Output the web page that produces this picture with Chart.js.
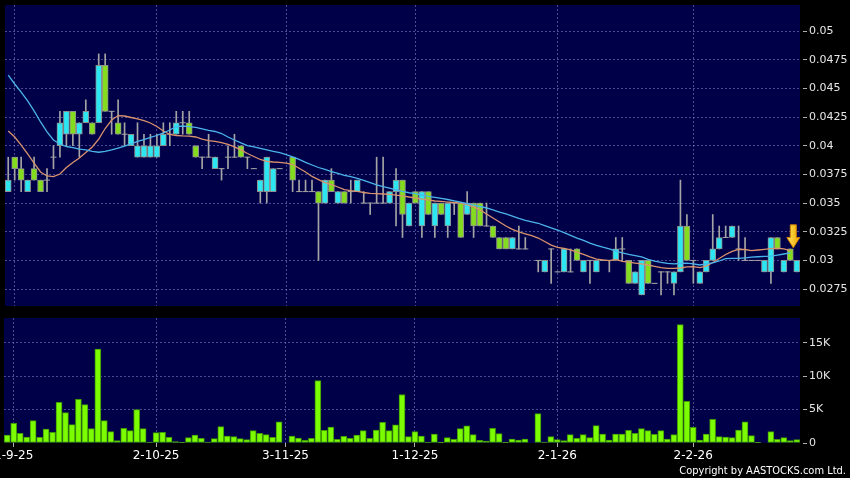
<!DOCTYPE html>
<html>
<head>
<meta charset="utf-8">
<script src="https://cdn.jsdelivr.net/npm/chart.js@4.4.1/dist/chart.umd.min.js"></script>
<style>
html, body { margin: 0; padding: 0; background: #000; width: 850px; height: 478px; overflow: hidden; }
#pricePane { position: absolute; left: 0; top: 0; width: 850px; height: 312px; }
#volPane { position: absolute; left: 0; top: 312px; width: 850px; height: 166px; }
#copy { position: absolute; right: 4px; top: 464px; color: #fff; font: 11px "DejaVu Sans Condensed", "Liberation Sans Narrow", "Liberation Sans", sans-serif; font-stretch: condensed; white-space: nowrap; }
</style>
</head>
<body>
<div id="pricePane"><canvas id="priceChart"></canvas></div>
<div id="volPane"><canvas id="volChart"></canvas></div>
<div id="copy">Copyright by AASTOCKS.com Ltd.</div>
<script>
// trading days shown on the chart
const dates = ('29-8-25 1-9-25 2-9-25 3-9-25 4-9-25 5-9-25 8-9-25 9-9-25 10-9-25 11-9-25 12-9-25 ' +
  '15-9-25 16-9-25 17-9-25 18-9-25 19-9-25 22-9-25 23-9-25 24-9-25 25-9-25 26-9-25 29-9-25 30-9-25 ' +
  '2-10-25 3-10-25 6-10-25 8-10-25 9-10-25 10-10-25 13-10-25 14-10-25 15-10-25 16-10-25 17-10-25 ' +
  '20-10-25 21-10-25 22-10-25 23-10-25 24-10-25 27-10-25 28-10-25 30-10-25 31-10-25 ' +
  '3-11-25 4-11-25 5-11-25 6-11-25 7-11-25 10-11-25 11-11-25 12-11-25 13-11-25 14-11-25 ' +
  '17-11-25 18-11-25 19-11-25 20-11-25 21-11-25 24-11-25 25-11-25 26-11-25 27-11-25 28-11-25 ' +
  '1-12-25 2-12-25 3-12-25 4-12-25 5-12-25 8-12-25 9-12-25 10-12-25 11-12-25 12-12-25 ' +
  '15-12-25 16-12-25 17-12-25 18-12-25 19-12-25 22-12-25 23-12-25 24-12-25 26-12-25 29-12-25 30-12-25 31-12-25 ' +
  '2-1-26 5-1-26 6-1-26 7-1-26 8-1-26 9-1-26 12-1-26 13-1-26 14-1-26 15-1-26 16-1-26 ' +
  '19-1-26 20-1-26 21-1-26 22-1-26 23-1-26 26-1-26 27-1-26 28-1-26 29-1-26 30-1-26 ' +
  '2-2-26 3-2-26 4-2-26 5-2-26 6-2-26 9-2-26 10-2-26 11-2-26 12-2-26 13-2-26 16-2-26 20-2-26 ' +
  '23-2-26 24-2-26 25-2-26 26-2-26 27-2-26').split(' ');
const tickDates = ['1-9-25', '2-10-25', '3-11-25', '1-12-25', '2-1-26', '2-2-26'];

const open = [
  .036,.039,.038,.036,.038,.037,.037,.039,.040,.041,
  .043,.041,.042,.042,.042,.047,.043,.042,.041,.040,
  .039,.039,.039,.039,.040,.041,.041,.042,.042,.040,
  .039,.039,.038,.038,.039,.039,.040,.039,.038,.036,
  .036,.036,.038,null,.039,.036,.036,.036,.036,.035,
  .037,.035,.036,.036,.036,.035,.035,.035,.035,.035,
  .036,.037,.033,.036,.033,.036,.033,.035,.033,.035,
  .035,.034,.035,.035,.033,.033,.032,.032,.031,.031,
  .031,null,.030,.029,.031,.029,.029,.029,.031,.029,
  .030,.029,.030,.030,.030,.031,.030,.028,.027,.030,
  .028,.029,.029,.028,.029,.033,.030,.028,.029,.030,
  .031,.032,.032,.031,.030,.030,.030,.029,.029,.032,
  .029,.031,.029];
const high = [
  .039,.039,.039,.037,.039,.037,.038,.040,.043,.043,
  .043,.042,.044,.042,.048,.048,.043,.044,.042,.041,
  .042,.041,.041,.041,.042,.042,.043,.043,.043,.040,
  .039,.041,.039,.038,.040,.041,.040,.039,.038,.037,
  .039,.038,.038,null,.039,.037,.037,.037,.036,.037,
  .038,.036,.036,.037,.037,.036,.035,.039,.039,.036,
  .038,.037,.035,.036,.036,.036,.035,.035,.035,.035,
  .035,.036,.035,.035,.035,.033,.032,.032,.032,.033,
  .032,null,.030,.030,.031,.029,.031,.031,.031,.030,
  .030,.030,.030,.030,.032,.032,.030,.029,.030,.030,
  .028,.029,.029,.029,.037,.034,.030,.029,.030,.034,
  .033,.033,.033,.033,.032,.030,.030,.030,.032,.032,
  .030,.031,.030];
const low = [
  .036,.037,.036,.036,.037,.036,.036,.038,.039,.040,
  .040,.039,.042,.041,.042,.043,.041,.041,.040,.040,
  .039,.039,.039,.039,.040,.040,.041,.041,.041,.039,
  .038,.039,.038,.037,.038,.039,.039,.038,.038,.035,
  .035,.036,.038,null,.036,.036,.036,.036,.030,.035,
  .036,.035,.035,.035,.036,.035,.034,.035,.035,.035,
  .033,.032,.033,.035,.032,.034,.032,.034,.032,.034,
  .032,.034,.032,.033,.033,.032,.031,.031,.031,.031,
  .031,null,.029,.029,.028,.029,.029,.029,.030,.029,
  .028,.029,.030,.029,.030,.030,.028,.028,.027,.028,
  .028,.027,.028,.027,.029,.030,.028,.028,.029,.030,
  .031,.032,.032,.030,.030,.030,.030,.029,.028,.031,
  .029,.030,.029];
const close = [
  .037,.038,.037,.037,.037,.036,.037,.039,.042,.043,
  .041,.042,.043,.041,.047,.043,.043,.041,.041,.041,
  .040,.040,.040,.040,.041,.041,.042,.042,.041,.039,
  .039,.039,.039,.038,.039,.039,.039,.039,.038,.037,
  .039,.038,.038,null,.037,.036,.036,.036,.035,.037,
  .036,.036,.035,.036,.037,.035,.035,.035,.035,.036,
  .037,.034,.035,.035,.036,.034,.035,.034,.035,.035,
  .032,.035,.033,.033,.033,.032,.031,.031,.032,.031,
  .031,null,.030,.030,.031,.029,.031,.029,.030,.030,
  .030,.030,.030,.030,.031,.031,.028,.029,.030,.028,
  .028,.029,.029,.029,.033,.030,.030,.029,.030,.031,
  .032,.032,.033,.031,.030,.030,.030,.030,.032,.031,
  .030,.030,.030];

// moving averages as drawn (blue = longer, orange = shorter)
const maLong = [
  .04616,.04538,.04468,.04390,.04303,.04207,.04120,.04050,.04015,.03993,
  .03984,.03971,.03963,.03950,.03943,.03950,.03963,.03980,.03997,.04015,
  .04037,.04054,.04072,.04089,.04111,.04137,.04167,.04172,.04167,.04159,
  .04146,.04133,.04124,.04106,.04076,.04050,.04024,.04000,.03989,.03976,
  .03963,.03950,.03939,.03923,.03902,.03880,.03855,.03832,.03810,.03793,
  .03775,.03758,.03742,.03730,.03716,.03697,.03679,.03659,.03644,.03631,
  .03616,.03602,.03590,.03582,.03570,.03559,.03549,.03540,.03531,.03520,
  .03509,.03496,.03483,.03470,.03457,.03440,.03422,.03405,.03387,.03366,
  .03350,.03337,.03324,.03304,.03283,.03265,.03243,.03219,.03195,.03174,
  .03150,.03132,.03115,.03100,.03082,.03065,.03052,.03041,.03030,.03010,
  .02993,.02983,.02975,.02969,.02973,.02976,.02969,.02960,.02969,.02979,
  .02995,.03015,.03018,.03018,.03023,.03028,.03032,.03035,.03038,.03047,
  .03056,.03065,null];
const maShort = [
  .04128,.04076,.04006,.03928,.03849,.03771,.03736,.03730,.03753,.03810,
  .03854,.03893,.03941,.03989,.04058,.04150,.04224,.04263,.04259,.04246,
  .04233,.04218,.04198,.04167,.04128,.04098,.04089,.04085,.04083,.04076,
  .04058,.04045,.04037,.04026,.04011,.03989,.03963,.03932,.03906,.03880,
  .03864,.03858,.03854,.03849,.03836,.03803,.03771,.03732,.03705,.03679,
  .03660,.03640,.03618,.03608,.03601,.03592,.03585,.03582,.03579,.03575,
  .03570,.03562,.03553,.03544,.03535,.03527,.03518,.03514,.03509,.03505,
  .03500,.03487,.03466,.03440,.03405,.03370,.03335,.03300,.03270,.03248,
  .03232,.03217,.03195,.03165,.03134,.03113,.03104,.03091,.03073,.03052,
  .03030,.03012,.03004,.02999,.03008,.02992,.02986,.02977,.02969,.02960,
  .02949,.02938,.02930,.02930,.02934,.02943,.02945,.02938,.02951,.02982,
  .03017,.03052,.03078,.03097,.03095,.03086,.03091,.03097,.03102,.03106,
  .03100,.03086,null];

const volume = [
  1200,2950,1450,900,3350,850,2100,1600,6100,4550,
  2750,6550,5750,2150,14050,3350,1700,350,2200,1850,
  5000,2150,150,1550,1600,850,200,50,800,1200,
  700,150,650,2450,1050,950,650,500,1850,1450,
  1250,850,3150,0,1050,750,400,700,9350,1900,
  2400,550,1000,700,1200,1850,700,1950,3100,1850,
  2700,7250,950,1700,1050,150,1350,50,800,550,
  2150,2550,1250,400,300,2200,1400,100,600,450,
  600,0,4400,150,950,500,350,1250,700,1250,
  800,2600,1350,450,1350,1350,1900,1450,2150,1850,
  1300,1850,600,1250,17700,6250,2350,450,1350,3550,
  950,900,800,1950,3150,1100,50,0,1700,550,
  800,350,500];

const priceTicks = [0.0275, 0.03, 0.0325, 0.035, 0.0375, 0.04, 0.0425, 0.045, 0.0475, 0.05];
const priceTickLabels = ['0.0275', '0.03', '0.0325', '0.035', '0.0375', '0.04', '0.0425', '0.045', '0.0475', '0.05'];
const volTicks = [0, 5000, 10000, 15000];
const volTickLabels = ['0', '5K', '10K', '15K'];

// latest-day marker
const markerIndex = 121;
const markerTop = 0.0331;
const markerTip = 0.0311;

const UP = '#2ce6f2', DOWN = '#84dc1e', WICK = '#a4a4a4', EDGE = '#8e8e8e';
const GRID = 'rgba(125,125,200,0.6)';
const FONT = '"DejaVu Sans", sans-serif';

const wicks = high.map((h, i) => h === null ? null : [low[i], h]);
const bodies = open.map((o, i) => (o === null || o === close[i]) ? null : [Math.min(o, close[i]), Math.max(o, close[i])]);
const bodyColors = open.map((o, i) => close[i] > o ? UP : DOWN);
const dojis = open.map((o, i) => (o !== null && o === close[i]) ? o : null);

const isTick = (i) => tickDates.includes(dates[i]);

const plotBg = {
    id: 'plotBg',
    beforeDraw(chart) {
        const { ctx, chartArea: a } = chart;
        ctx.save();
        ctx.fillStyle = '#000048';
        ctx.fillRect(a.left, a.top, a.right - a.left, a.bottom - a.top);
        ctx.restore();
    }
};

const marker = {
    id: 'marker',
    afterDatasetsDraw(chart) {
        const { ctx, scales: { x, y } } = chart;
        const cx = x.getPixelForValue(markerIndex) + 3;
        const top = y.getPixelForValue(markerTop);
        const tip = y.getPixelForValue(markerTip);
        const neck = top + (tip - top) * 0.55;
        ctx.save();
        const g = ctx.createLinearGradient(cx - 6, 0, cx + 6, 0);
        g.addColorStop(0, '#ffe35a');
        g.addColorStop(1, '#f2a900');
        ctx.fillStyle = g;
        ctx.strokeStyle = '#d08000';
        ctx.lineWidth = 1;
        ctx.beginPath();
        ctx.moveTo(cx - 3, top);
        ctx.lineTo(cx + 3, top);
        ctx.lineTo(cx + 3, neck);
        ctx.lineTo(cx + 6.5, neck);
        ctx.lineTo(cx, tip);
        ctx.lineTo(cx - 6.5, neck);
        ctx.lineTo(cx - 3, neck);
        ctx.closePath();
        ctx.fill();
        ctx.stroke();
        ctx.restore();
    }
};

function rightAxis(min, max, ticks, labels) {
    return {
        position: 'right',
        min: min,
        max: max,
        afterBuildTicks: (axis) => { axis.ticks = ticks.map(v => ({ value: v })); },
        afterFit: (axis) => { axis.width = 50; axis.paddingTop = 0; axis.paddingBottom = 0; },
        grid: {
            color: (c) => (c.tick && c.tick.value === 0) ? 'transparent' : GRID,
            tickColor: '#b0b0b0',
            tickLength: 7,
            tickBorderDash: [0, 3, 4, 0]
        },
        border: { display: false, dash: [2, 2] },
        ticks: {
            color: '#e6e6e6',
            font: { family: FONT, size: 11 },
            padding: 2,
            callback: (v, i) => labels[i]
        }
    };
}

function initializePriceChart() {
    const ctx = document.getElementById('priceChart').getContext('2d');
    new Chart(ctx, {
        type: 'bar',
        data: {
            labels: dates,
            datasets: [
                { type: 'line', data: maLong, borderColor: '#4bb4ea', borderWidth: 1.3, pointRadius: 0, tension: 0, order: 0 },
                { type: 'line', data: maShort, borderColor: '#d9936c', borderWidth: 1.3, pointRadius: 0, tension: 0, order: 0 },
                { type: 'line', data: dojis, showLine: false, pointStyle: 'line', pointRadius: 3, pointBorderWidth: 1, pointBorderColor: WICK, order: 1 },
                { data: bodies, backgroundColor: bodyColors, borderColor: EDGE, borderWidth: 1, borderSkipped: false, barThickness: 6, grouped: false, order: 2 },
                { data: wicks, backgroundColor: WICK, barThickness: 1, grouped: false, order: 3 }
            ]
        },
        options: {
            responsive: true,
            maintainAspectRatio: false,
            animation: false,
            events: [],
            layout: { padding: { left: 4, top: 5, right: 0, bottom: 6 } },
            plugins: { legend: { display: false }, tooltip: { enabled: false } },
            scales: {
                x: {
                    offset: true,
                    afterFit: (axis) => { axis.height = 0; axis.paddingLeft = 0; axis.paddingRight = 0; },
                    grid: {
                        offset: false,
                        drawTicks: false,
                        color: (c) => isTick(c.index) ? GRID : 'transparent'
                    },
                    border: { display: false, dash: [2, 2] },
                    ticks: { display: false, autoSkip: false }
                },
                y: rightAxis(0.026026, 0.052267, priceTicks, priceTickLabels)
            }
        },
        plugins: [plotBg, marker]
    });
}

function initializeVolumeChart() {
    const ctx = document.getElementById('volChart').getContext('2d');
    new Chart(ctx, {
        type: 'bar',
        data: {
            labels: dates,
            datasets: [
                { data: volume, backgroundColor: '#7cfc00', borderColor: '#3f9a00', borderWidth: 1, borderSkipped: false, barThickness: 6 }
            ]
        },
        options: {
            responsive: true,
            maintainAspectRatio: false,
            animation: false,
            events: [],
            layout: { padding: { left: 4, top: 6, right: 0, bottom: 0 } },
            plugins: { legend: { display: false }, tooltip: { enabled: false } },
            scales: {
                x: {
                    offset: true,
                    afterFit: (axis) => { axis.paddingLeft = 0; axis.paddingRight = 0; axis.height = 35; },
                    grid: {
                        offset: false,
                        tickLength: 4,
                        color: (c) => isTick(c.index) ? GRID : 'transparent',
                        tickColor: (c) => isTick(c.index) ? '#b0b0b0' : 'transparent'
                    },
                    border: { display: false, dash: [2, 2] },
                    ticks: {
                        autoSkip: false,
                        maxRotation: 0,
                        padding: 2,
                        color: '#ffffff',
                        font: { family: FONT, size: 12 },
                        callback: (v, i) => isTick(i) ? dates[i] : ''
                    }
                },
                y: rightAxis(0, 18700, volTicks, volTickLabels)
            }
        },
        plugins: [plotBg]
    });
}

initializePriceChart();
initializeVolumeChart();
</script>
</body>
</html>
